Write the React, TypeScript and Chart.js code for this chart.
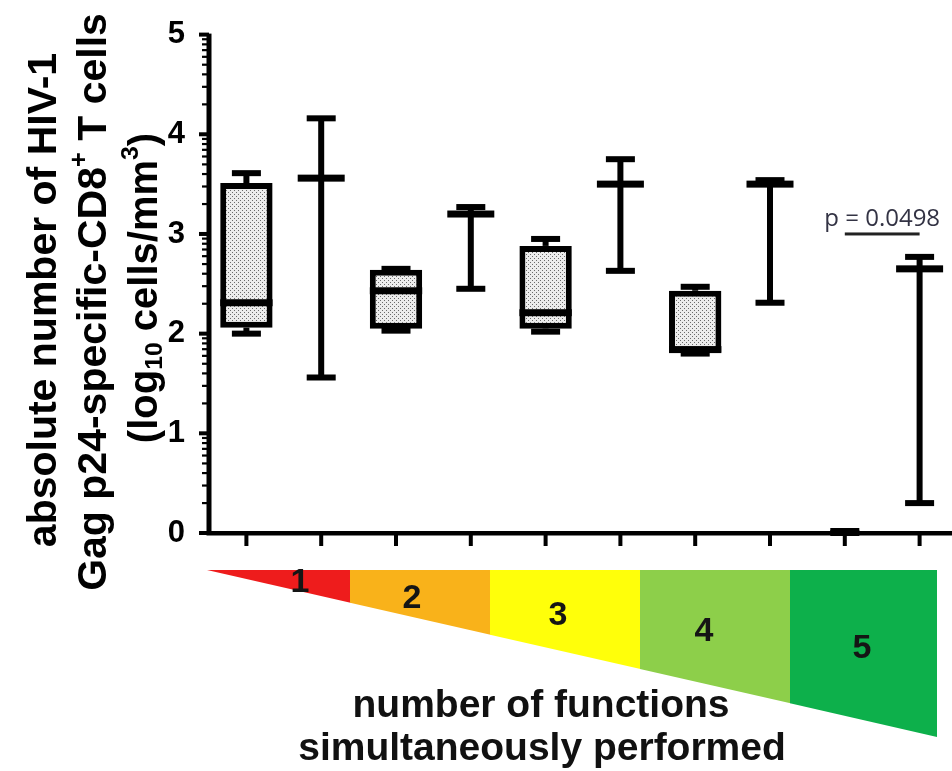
import React, { useEffect, useRef } from "react";
import { Chart, registerables } from "chart.js";

Chart.register(...registerables);

// ---- data ----
const categories = ["1a", "1b", "2a", "2b", "3a", "3b", "4a", "4b", "5a", "5b"];
const minValues = [2.0, 1.56, 2.03, 2.45, 2.02, 2.63, 1.8, 2.31, 0.0, 0.3];
const q1Values = [2.06, 3.56, 2.05, 3.2, 2.05, 3.5, 1.81, 3.5, 0.01, 2.65];
const medianValues = [2.31, 3.56, 2.43, 3.2, 2.21, 3.5, 1.84, 3.5, 0.01, 2.65];
const q3Values = [3.51, 3.56, 2.64, 3.2, 2.88, 3.5, 2.43, 3.5, 0.01, 2.65];
const maxValues = [3.61, 4.16, 2.65, 3.27, 2.95, 3.75, 2.47, 3.54, 0.02, 2.77];
const boxShown = [true, false, true, false, true, false, true, false, false, false];
const yTicks = [0, 1, 2, 3, 4, 5];
const functionCounts = ["1", "2", "3", "4", "5"];
const wedgeColors = ["#EE1C1C", "#F9B21A", "#FFFF0A", "#8DCF4A", "#0DB04B"];
const pLabel = "p = 0.0498";
const pPair = [8, 9];
const pBracketValue = 3.0;
const xTitleLines = ["number of functions", "simultaneously performed"];

const FONT = '"Liberation Sans", Arial, sans-serif';

function makePattern(): CanvasPattern | string {
  const c = document.createElement("canvas");
  c.width = 4;
  c.height = 4;
  const g = c.getContext("2d");
  if (!g) return "#dddddd";
  g.fillStyle = "#ececec";
  g.fillRect(0, 0, 4, 4);
  g.fillStyle = "#6a6a6a";
  g.fillRect(0, 0, 1, 1);
  g.fillRect(2, 2, 1, 1);
  const p = g.createPattern(c, "repeat");
  return p || "#dddddd";
}

type Seg = { t: string; kind?: "sup" | "sub" };

function drawRichRotated(ctx: CanvasRenderingContext2D, segs: Seg[], cx: number, cy: number, size: number) {
  const parts = segs.map((s) => {
    const fs = s.kind ? size * 0.62 : size;
    ctx.font = `bold ${fs}px ${FONT}`;
    return { ...s, fs, w: ctx.measureText(s.t).width };
  });
  const total = parts.reduce((a, p) => a + p.w, 0);
  ctx.save();
  ctx.translate(cx, cy);
  ctx.rotate(-Math.PI / 2);
  ctx.textBaseline = "middle";
  ctx.textAlign = "left";
  ctx.fillStyle = "#000";
  let x = -total / 2;
  for (const p of parts) {
    ctx.font = `bold ${p.fs}px ${FONT}`;
    const dy = p.kind === "sup" ? -size * 0.36 : p.kind === "sub" ? size * 0.24 : 0;
    ctx.fillText(p.t, x, dy);
    x += p.w;
  }
  ctx.restore();
}

const boxPlugin = {
  id: "boxDecor",
  afterDatasetsDraw(chart: any) {
    const ctx: CanvasRenderingContext2D = chart.ctx;
    const xs = chart.scales.x;
    const ys = chart.scales.y;
    const meta = chart.getDatasetMeta(0);
    ctx.save();
    ctx.fillStyle = "#000";
    categories.forEach((_, i) => {
      const cx = xs.getPixelForValue(i);
      const yMin = ys.getPixelForValue(minValues[i]);
      const yQ1 = ys.getPixelForValue(q1Values[i]);
      const yQ3 = ys.getPixelForValue(q3Values[i]);
      const yMax = ys.getPixelForValue(maxValues[i]);
      const yMed = ys.getPixelForValue(medianValues[i]);
      const capW = 29;
      const lw = 6;
      // whiskers
      ctx.fillRect(cx - lw / 2, yQ1, lw, yMin - yQ1);
      ctx.fillRect(cx - lw / 2, yMax, lw, yQ3 - yMax);
      // caps
      ctx.fillRect(cx - capW / 2, yMax - 3, capW, 6);
      ctx.fillRect(cx - capW / 2, yMin - 3, capW, 6);
      // median / collapsed box
      let mw = 47;
      if (boxShown[i]) {
        const el = meta.data[i];
        mw = el ? el.width : 52;
      } else if (maxValues[i] - minValues[i] < 0.1) {
        mw = capW - 2;
      }
      ctx.fillRect(cx - mw / 2, yMed - 3.5, mw, 7);
    });
    ctx.restore();
  },
  afterDraw(chart: any) {
    const ctx: CanvasRenderingContext2D = chart.ctx;
    const xs = chart.scales.x;
    const ys = chart.scales.y;
    const area = chart.chartArea;
    ctx.save();
    // axes
    ctx.fillStyle = "#000";
    ctx.fillRect(area.left - 2.5, area.top - 1, 5, area.bottom - area.top + 3);
    ctx.fillRect(area.left - 2.5, area.bottom - 2, area.right - area.left + 3, 4.5);
    // y ticks major & minor
    yTicks.forEach((v) => {
      const y = ys.getPixelForValue(v);
      ctx.fillRect(area.left - 10, y - 2, 10, 4);
      if (v < 5) {
        for (let k = 2; k <= 9; k++) {
          const yy = ys.getPixelForValue(v + Math.log10(k));
          ctx.fillRect(area.left - 7, yy - 1, 7, 2.2);
        }
      }
    });
    // x ticks
    categories.forEach((_, i) => {
      const x = xs.getPixelForValue(i);
      ctx.fillRect(x - 2, area.bottom, 4, 13);
    });

    // p-value annotation
    const xa = xs.getPixelForValue(pPair[0]);
    const xb = xs.getPixelForValue(pPair[1]);
    const yb = ys.getPixelForValue(pBracketValue);
    ctx.fillStyle = "#222";
    ctx.fillRect(xa, yb - 1.5, xb - xa, 3);
    ctx.font = `24px "Open Sans", Lato, sans-serif`;
    ctx.fillStyle = "#333344";
    ctx.textAlign = "center";
    ctx.textBaseline = "alphabetic";
    ctx.fillText(pLabel, (xa + xb) / 2, yb - 8);

    // y-axis title
    const ySegs: Seg[][] = [
      [{ t: "absolute number of HIV-1" }],
      [{ t: "Gag p24-specific-CD8" }, { t: "+", kind: "sup" }, { t: " T cells" }],
      [{ t: "(log" }, { t: "10", kind: "sub" }, { t: " cells/mm" }, { t: "3", kind: "sup" }, { t: ")" }],
    ];
    drawRichRotated(ctx, ySegs[0], 45, 300, 41);
    drawRichRotated(ctx, ySegs[1], 95, 302, 41);
    drawRichRotated(ctx, ySegs[2], 146, 288, 40);

    // wedge
    const wx0 = 207;
    const wx1 = 937;
    const wTop = 570;
    const wBot = 737;
    const breaks = [207, 350, 490, 640, 790, 937];
    const hyp = (x: number) => wTop + ((wBot - wTop) * (x - wx0)) / (wx1 - wx0);
    for (let s = 0; s < 5; s++) {
      const a = breaks[s];
      const b = breaks[s + 1];
      ctx.beginPath();
      ctx.moveTo(a, wTop);
      ctx.lineTo(b + (s < 4 ? 0.5 : 0), wTop);
      ctx.lineTo(b + (s < 4 ? 0.5 : 0), hyp(b));
      ctx.lineTo(a, hyp(a));
      ctx.closePath();
      ctx.fillStyle = wedgeColors[s];
      ctx.fill();
    }
    const numPos = [
      [300, 583],
      [412, 599],
      [558, 616],
      [704, 632],
      [862, 649],
    ];
    ctx.fillStyle = "#151515";
    ctx.font = `bold 34px "Liberation Sans Narrow", ${FONT}`;
    ctx.textAlign = "center";
    ctx.textBaseline = "middle";
    functionCounts.forEach((t, i) => {
      ctx.fillText(t, numPos[i][0], numPos[i][1]);
    });

    // x-axis title
    ctx.fillStyle = "#111";
    ctx.font = `bold 39px ${FONT}`;
    ctx.fillText(xTitleLines[0], 541, 706);
    ctx.fillText(xTitleLines[1], 542, 749);
    ctx.restore();
  },
};

export default function App() {
  const canvasRef = useRef<HTMLCanvasElement | null>(null);

  useEffect(() => {
    if (!canvasRef.current) return;
    const pattern = makePattern();
    const chart = new Chart(canvasRef.current, {
      type: "bar",
      data: {
        labels: categories,
        datasets: [
          {
            label: "IQR",
            data: categories.map((_, i) => (boxShown[i] ? [q1Values[i], q3Values[i]] : null)) as any,
            backgroundColor: pattern as any,
            borderColor: "#000",
            borderWidth: 6,
            borderSkipped: false,
            barPercentage: 0.7,
            categoryPercentage: 1,
          },
        ],
      },
      options: {
        animation: false,
        responsive: true,
        maintainAspectRatio: false,
        layout: { padding: { top: 33, left: 0, right: 0, bottom: 0 } },
        plugins: {
          legend: { display: false },
          tooltip: { enabled: false },
          title: { display: false },
        },
        scales: {
          x: {
            type: "category",
            offset: true,
            grid: { display: false },
            border: { display: false },
            ticks: { display: false },
            afterFit: (scale: any) => {
              scale.height = 238;
            },
          },
          y: {
            type: "linear",
            min: 0,
            max: 5,
            grid: { display: false },
            border: { display: false },
            ticks: {
              stepSize: 1,
              padding: 16,
              color: "#000",
              font: { family: "Liberation Sans", size: 31, weight: "bold" },
            },
            afterFit: (scale: any) => {
              scale.width = 209;
            },
          },
        },
      },
      plugins: [boxPlugin],
    });
    return () => chart.destroy();
  }, []);

  return (
    <div style={{ position: "fixed", left: 0, top: 0, width: 952, height: 771, overflow: "hidden", background: "#fff" }}>
      <div style={{ position: "absolute", left: 0, top: 0, width: 957, height: 771 }}>
        <canvas ref={canvasRef} />
      </div>
    </div>
  );
}
